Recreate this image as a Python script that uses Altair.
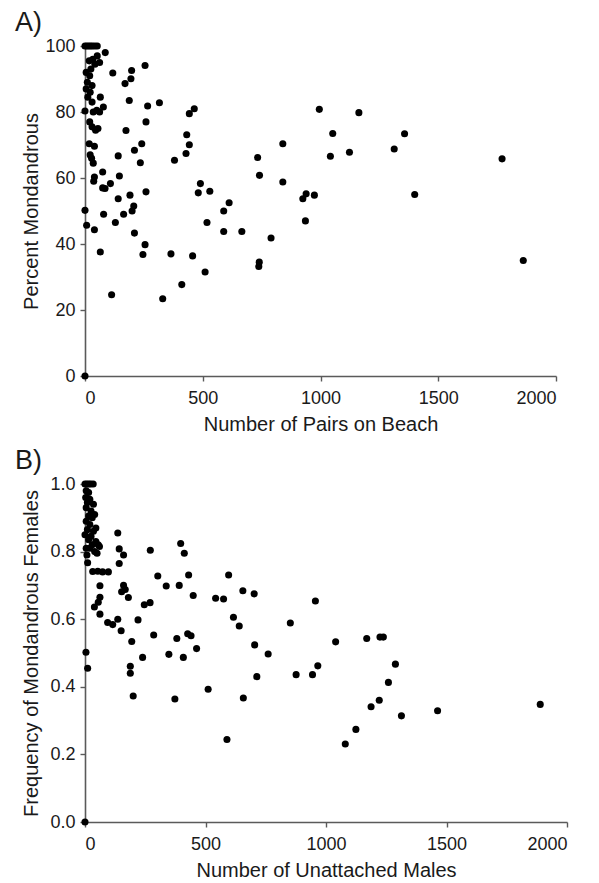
import altair as alt
import pandas as pd

# ---------------- Panel A: Number of pairs on beach vs percent monandrous
pairs_x = [0, 8, 16, 24, 32, 42, 52,
           86, 52, 33, 18, 42, 62, 25,
           5, 20, 10, 30, 5, 22, 12, 30, 65,
           0, 35, 50, 78, 62,
           20, 30, 45, 55,
           18, 40,
           22, 28, 35,
           40, 37, 75,
           75, 85, 108,
           0, 7, 40, 79, 129, 164, 141, 191, 200, 207, 210, 65, 113,
           259, 255, 246, 330, 365, 411, 457, 510, 490, 481, 530, 518, 589, 612, 589, 666,
           840, 740, 738, 790, 925, 939, 974, 936, 0,
           118, 170, 195, 198, 255, 188, 266, 316, 174, 259, 241, 210, 141, 235, 146,
           464, 443, 380, 429, 443, 432,
           733, 741, 840, 995, 1163, 1052, 1357, 1042, 1123, 1313, 1400, 1771, 1861]
pct_y = [100, 100, 100, 100, 100, 100, 100,
         98, 97, 96, 95.5, 94.5, 95, 93,
         92, 91, 89, 88, 87, 86, 84.5, 83, 84.5,
         80.3, 80, 80.5, 81.5, 80,
         77, 75.5, 74.5, 75,
         70.4, 69.6,
         67, 66, 64.5,
         60.3, 59, 61.8,
         57, 56.8, 58.3,
         50.2, 45.7, 44.3, 49, 46.5, 49, 53.7, 54.8, 50, 51.5, 43.3, 37.6, 24.6,
         55.8, 39.8, 36.8, 23.4, 37, 27.7, 36.4, 31.5, 58.3, 55.5, 56, 46.5, 50, 52.5, 43.8, 43.8,
         58.8, 34.5, 33.2, 41.8, 53.7, 55.2, 54.8, 47, 0,
         91.8, 88.6, 90.1, 92.6, 94.1, 83.5, 81.8, 82.8, 74.4, 77, 70.4, 68.4, 66.7, 64.6, 60.6,
         81, 79.5, 65.4, 67.4, 70.1, 73.1,
         66.2, 60.8, 70.4, 80.8, 79.8, 73.5, 73.4, 66.6, 67.8, 68.8, 55, 65.8, 35]

# ---------------- Panel B: Number of unattached males vs frequency of monandrous females
males_x = [0, 8, 16, 24, 34,
           5, 15, 3, 20, 10, 35, 5, 25, 40, 15, 30, 5, 20, 45, 10, 35, 0, 25, 15, 45, 30, 55, 5, 20, 40, 60, 8, 50,
           11,
           32, 53, 73, 97,
           62, 62, 55, 39, 62,
           136, 142, 160, 142,
           160, 152, 167, 180,
           94, 115, 136, 150, 194, 220, 246, 270,
           271, 397, 412,
           302, 337, 391, 430, 449,
           596, 542, 575, 616, 640, 655, 702, 852, 956,
           285, 381, 426, 440, 463,
           4, 11, 188, 188, 200, 239, 348, 408, 373, 511, 589,
           704, 713, 657, 760, 876, 944, 966, 1040, 1080, 1124,
           1169, 1224, 1238, 1288, 1259, 1221, 1187, 1313, 1463, 1889,
           0]
freq_y = [1.0, 1.0, 1.0, 1.0, 1.0,
          0.98, 0.975, 0.96, 0.955, 0.945, 0.94, 0.93, 0.92, 0.91, 0.905, 0.9, 0.89, 0.88, 0.87, 0.865, 0.86,
          0.85, 0.845, 0.835, 0.83, 0.82, 0.82, 0.81, 0.81, 0.80, 0.815, 0.79, 0.795,
          0.767,
          0.741, 0.742, 0.740, 0.740,
          0.699, 0.665, 0.65, 0.636, 0.615,
          0.855, 0.808, 0.79, 0.765,
          0.70, 0.681, 0.688, 0.664,
          0.59, 0.584, 0.60, 0.566, 0.534, 0.598, 0.643, 0.649,
          0.804, 0.824, 0.795,
          0.728, 0.698, 0.70, 0.731, 0.67,
          0.731, 0.662, 0.66, 0.606, 0.58, 0.684, 0.675, 0.589, 0.654,
          0.553, 0.543, 0.557, 0.551, 0.513,
          0.502, 0.455, 0.461, 0.44, 0.373, 0.487, 0.496, 0.487, 0.364, 0.393, 0.244,
          0.524, 0.43, 0.367, 0.497, 0.436, 0.436, 0.462, 0.533, 0.231, 0.274,
          0.543, 0.547, 0.547, 0.467, 0.413, 0.36, 0.341, 0.314, 0.329, 0.348,
          0.0]

x_ticks = [0, 500, 1000, 1500, 2000]
a_y_ticks = [0, 20, 40, 60, 80, 100]
b_y_ticks = [0.0, 0.2, 0.4, 0.6, 0.8, 1.0]

FONT = "Liberation Sans"
AXC = "#5a5a5a"
TXT = "#1a1a1a"


def x_axis(title):
    return alt.Axis(title=title, values=x_ticks, format="d", grid=False, tickSize=5, labelPadding=8,
                    titlePadding=7, labelFontSize=18, titleFontSize=20, labelFont=FONT,
                    titleFont=FONT, titleFontWeight="normal", labelColor=TXT, titleColor=TXT,
                    domainColor=AXC, tickColor=AXC, domainWidth=1.6, tickWidth=1.4)


def y_axis(title, values, fmt):
    return alt.Axis(title=title, values=values, format=fmt, grid=False, tickSize=5,
                    labelPadding=5, titlePadding=4, minExtent=40, maxExtent=40,
                    labelFontSize=18, titleFontSize=20, labelFont=FONT, titleFont=FONT,
                    titleFontWeight="normal", labelColor=TXT, titleColor=TXT,
                    domainColor=AXC, tickColor=AXC, domainWidth=1.6, tickWidth=1.4)


def panel_title(t):
    return alt.TitleParams(t, anchor="start", frame="bounds", fontSize=27, fontWeight="normal",
                           font=FONT, color=TXT, offset=0, dx=-6)


dfA = pd.DataFrame({"pairs": pairs_x, "pct": pct_y})
dfB = pd.DataFrame({"males": males_x, "freq": freq_y})

chartA = alt.Chart(dfA).mark_circle(size=50, color="black", opacity=1).encode(
    x=alt.X("pairs:Q", scale=alt.Scale(domain=[0, 2000], nice=False),
            axis=x_axis("Number of Pairs on Beach")),
    y=alt.Y("pct:Q", scale=alt.Scale(domain=[0, 100], nice=False),
            axis=y_axis("Percent Mondandrous", a_y_ticks, "d")),
).properties(width=471, height=330, title=panel_title("A)"))

chartB = alt.Chart(dfB).mark_circle(size=50, color="black", opacity=1).encode(
    x=alt.X("males:Q", scale=alt.Scale(domain=[0, 2000], nice=False),
            axis=x_axis("Number of Unattached Males")),
    y=alt.Y("freq:Q", scale=alt.Scale(domain=[0, 1], nice=False),
            axis=y_axis("Frequency of Mondandrous Females", b_y_ticks, ".1f")),
).properties(width=482, height=338, title=panel_title("B)"))

chart = alt.vconcat(chartA, chartB, spacing=13).properties(
    padding={"left": 7, "right": 5, "top": 1, "bottom": 0},
    background="white",
).configure_view(stroke=None)

chart.save("out.html", embed_options={"renderer": "svg", "actions": False})
